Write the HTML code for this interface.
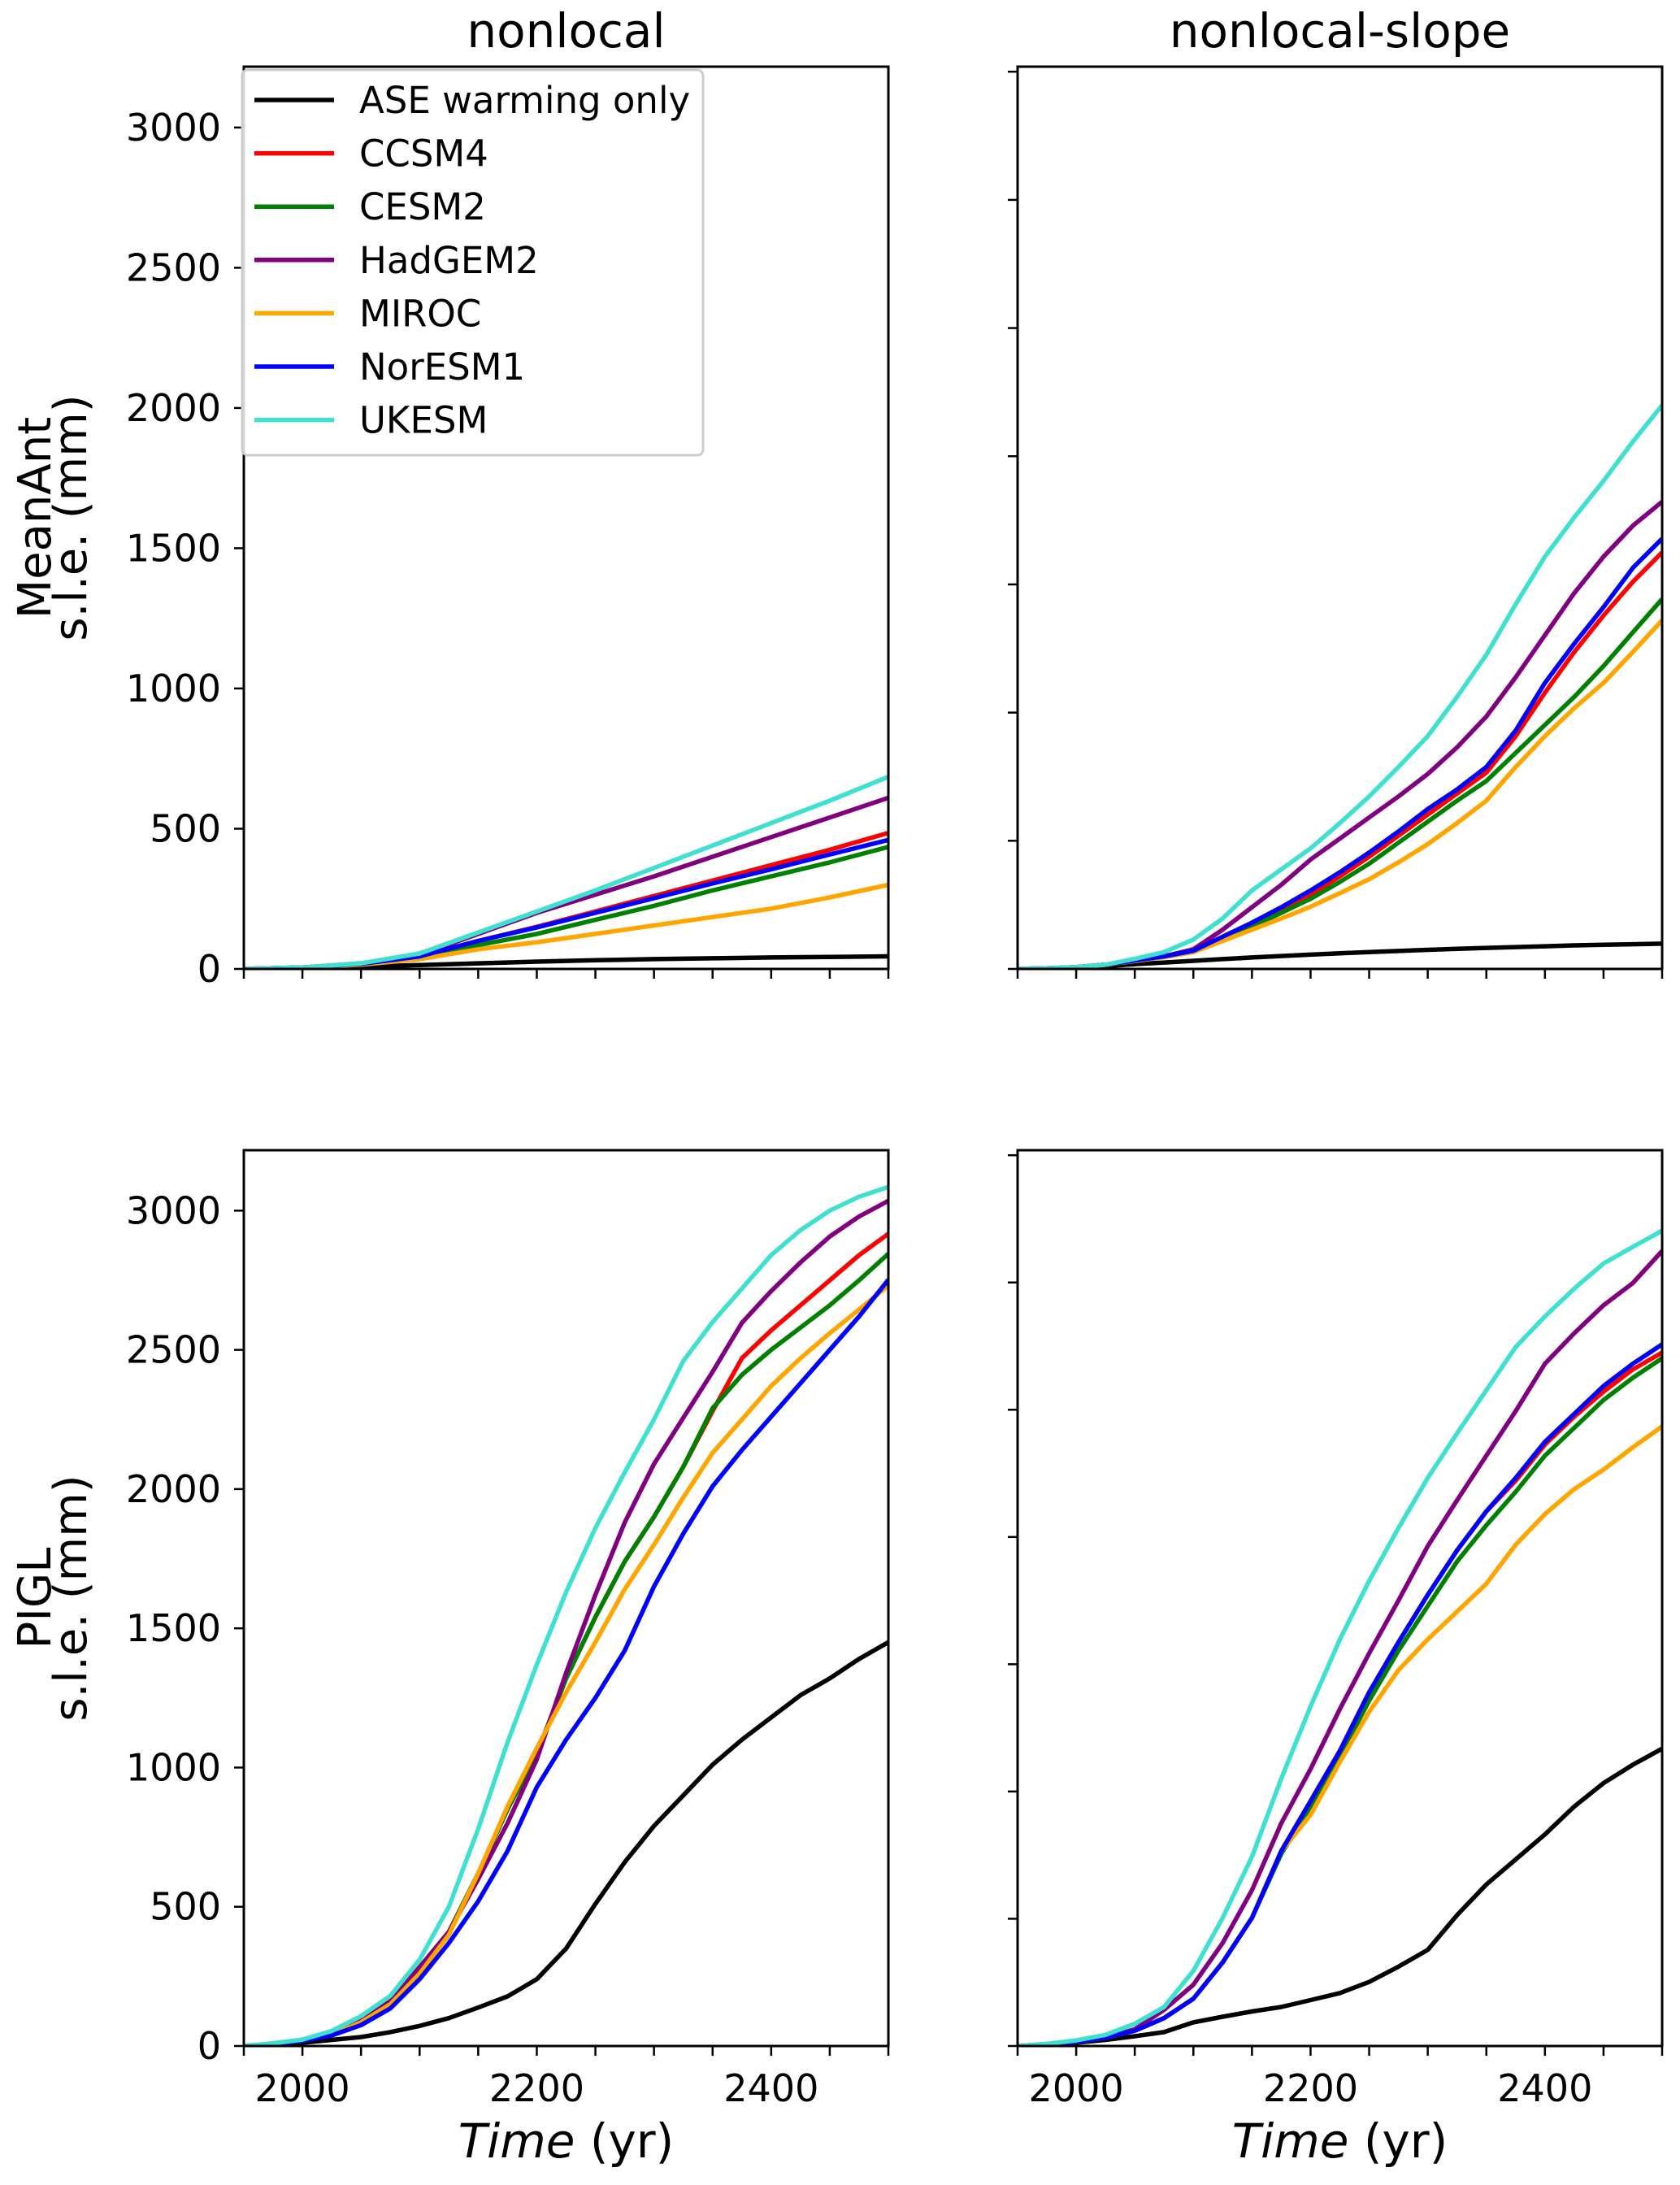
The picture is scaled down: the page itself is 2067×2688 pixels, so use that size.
<!DOCTYPE html>
<html><head><meta charset="utf-8"><style>
body{margin:0;background:#fff}
svg{display:block;font-family:"DejaVu Sans","Liberation Sans",sans-serif}
</style></head><body>
<svg id="chart" width="2067" height="2688" viewBox="0 0 2067 2688" xmlns="http://www.w3.org/2000/svg"></svg>
<script>
const seriesNames = ["ASE warming only","CCSM4","CESM2","HadGEM2","MIROC","NorESM1","UKESM"];
const seriesColors = ["#000000","#ff0000","#008000","#800080","#ffa500","#0000ff","#40e0d0"];
const xTicks = [2000,2200,2400];
const yTicks = [0,500,1000,1500,2000,2500,3000];
const yTicksRight = [0,457,914,1371,1828,2285,2742,3199];
const topYears = [1950,2000,2050,2100,2150,2200,2250,2300,2350,2400,2450,2500];
const years25 = [1950,1975,2000,2025,2050,2075,2100,2125,2150,2175,2200,2225,2250,2275,2300,2325,2350,2375,2400,2425,2450,2475,2500];
const nonlocalMean = [
 [0,3,8,14,20,26,31,35,38,41,43,45],
 [0,5,18,45,100,150,205,260,315,370,425,485],
 [0,4,16,40,85,125,175,225,280,330,380,435],
 [0,5,20,50,125,200,265,330,400,470,540,610],
 [0,4,15,35,70,95,125,155,185,215,255,300],
 [0,5,18,45,100,148,200,252,305,355,408,460],
 [0,5,20,55,130,205,280,360,440,520,600,685]
];
const slopeMean = [
 [0,2,5,10,17,23,29,35,41,46,51,56,60,64,68,72,75,78,81,84,86,88,90],
 [0,2,6,15,30,45,65,110,155,210,265,330,400,475,550,625,700,830,985,1130,1260,1380,1485],
 [0,2,6,15,30,45,65,105,150,200,250,310,375,450,525,600,670,770,870,970,1080,1200,1319],
 [0,2,6,15,30,45,70,140,220,300,390,465,540,615,695,790,900,1040,1190,1340,1470,1580,1666],
 [0,2,6,15,28,42,60,100,140,180,222,270,320,380,445,520,600,720,830,930,1020,1130,1243],
 [0,2,6,15,30,45,65,115,165,220,280,345,415,490,570,640,720,850,1020,1160,1290,1430,1534],
 [0,2,6,15,36,60,105,180,280,355,430,520,615,720,830,970,1120,1300,1470,1610,1740,1880,2010]
];
const nonlocalPIGL = [
 [0,5,12,22,32,50,72,100,138,178,240,350,510,660,790,900,1010,1100,1180,1260,1320,1390,1450],
 [0,8,19,45,97,160,283,410,620,850,1050,1320,1540,1740,1900,2080,2280,2470,2570,2660,2750,2840,2917],
 [0,8,19,45,97,160,283,410,620,850,1050,1320,1540,1740,1900,2080,2290,2410,2500,2580,2660,2750,2845],
 [0,8,19,45,97,160,283,410,600,800,1030,1340,1620,1880,2090,2256,2421,2597,2711,2814,2907,2979,3035],
 [0,8,19,40,85,150,260,400,620,860,1070,1270,1450,1640,1800,1970,2130,2250,2370,2470,2560,2645,2731],
 [0,8,19,38,75,135,240,370,520,700,930,1100,1250,1420,1650,1840,2010,2140,2260,2380,2500,2620,2752],
 [0,10,23,54,107,180,310,500,780,1090,1370,1630,1860,2060,2250,2460,2600,2720,2840,2930,3000,3050,3085]
];
const slopePIGL = [
 [0,5,12,22,35,50,85,105,124,140,165,190,230,285,345,470,580,670,760,860,944,1010,1068],
 [0,6,15,30,55,100,170,300,460,700,880,1060,1270,1450,1620,1780,1920,2030,2160,2260,2350,2430,2490],
 [0,6,15,30,55,100,170,300,460,690,860,1040,1240,1420,1580,1740,1870,1990,2120,2220,2320,2400,2470],
 [0,6,15,30,60,130,220,370,560,800,995,1210,1410,1600,1795,1960,2120,2280,2450,2560,2660,2740,2855],
 [0,6,15,30,55,100,170,300,460,700,830,1020,1200,1350,1460,1560,1660,1800,1910,2000,2070,2150,2225],
 [0,6,15,30,55,100,170,300,460,700,880,1060,1270,1450,1620,1780,1920,2040,2170,2270,2370,2450,2520],
 [0,8,20,40,80,140,270,460,680,960,1220,1460,1670,1860,2040,2200,2355,2510,2620,2720,2810,2870,2928]
];

const NS="http://www.w3.org/2000/svg";
const svg=document.getElementById('chart');
function mk(tag,attrs,parent){const e=document.createElementNS(NS,tag);for(const k in attrs)e.setAttribute(k,attrs[k]);(parent||svg).appendChild(e);return e;}
const XMIN=1950,XMAX=2500,YMIN=0,YMAX=3217;

function panel(id,x0,x1,y0,y1,years,data,labels,ticks){
  const g=mk('g',{});
  
  
  const sx=v=>x0+(v-XMIN)/(XMAX-XMIN)*(x1-x0);
  const sy=v=>y1-(v-YMIN)/(YMAX-YMIN)*(y1-y0);
  const cp=mk('clipPath',{id:'clip-'+id},g);
  mk('rect',{x:x0,y:y0,width:x1-x0,height:y1-y0},cp);
  data.forEach((vals,i)=>{
    const pts=vals.map((v,j)=>sx(years[j]).toFixed(1)+','+sy(v).toFixed(1)).join(' ');
    const pl=mk('polyline',{points:pts,fill:'none',stroke:seriesColors[i],'stroke-width':5.5,'stroke-linejoin':'round','clip-path':'url(#clip-'+id+')'},g);
    
    
  });
  const fr=mk('rect',{x:x0,y:y0,width:x1-x0,height:y1-y0,fill:'none',stroke:'#000','stroke-width':3},g);
  
  
  for(let yr=1950;yr<=2500;yr+=50){
    const x=sx(yr);
    mk('line',{x1:x,x2:x,y1:y1,y2:y1+12,stroke:'#000','stroke-width':2.5},g);
  }
  ticks.forEach(v=>{
    const y=sy(v);
    mk('line',{x1:x0-12,x2:x0,y1:y,y2:y,stroke:'#000','stroke-width':2.5},g);
    if(labels.y){
      const t=mk('text',{x:x0-28,y:y+16,'text-anchor':'end','font-size':46},g);
      t.textContent=v;
      
      
    }
  });
  if(labels.x){
    xTicks.forEach(v=>{
      const t=mk('text',{x:sx(v),y:y1+68,'text-anchor':'middle','font-size':46},g);
      t.textContent=v;
      
      
    });
    const xl=mk('text',{x:(x0+x1)/2,y:y1+137,'text-anchor':'middle','font-size':58},g);
    
    
    const a=mk('tspan',{'font-style':'italic'},xl);a.textContent='Time';
    const b=mk('tspan',{},xl);b.textContent=' (yr)';
  }
}
const LX0=300,LX1=1093,RX0=1252,RX1=2045,TY0=82,TY1=1192,BY0=1415,BY1=2517;
panel('panel-nonlocal-meanant',LX0,LX1,TY0,TY1,topYears,nonlocalMean,{y:true,x:false},yTicks);
panel('panel-slope-meanant',RX0,RX1,TY0,TY1,years25,slopeMean,{y:false,x:false},yTicksRight);
panel('panel-nonlocal-pigl',LX0,LX1,BY0,BY1,years25,nonlocalPIGL,{y:true,x:true},yTicks);
panel('panel-slope-pigl',RX0,RX1,BY0,BY1,years25,slopePIGL,{y:false,x:true},yTicksRight);

function txt(s,attrs,name){const t=mk('text',attrs);t.textContent=s;return t;}
txt('nonlocal',{x:(LX0+LX1)/2,y:58,'text-anchor':'middle','font-size':58},'column-title-nonlocal');
txt('nonlocal-slope',{x:(RX0+RX1)/2,y:58,'text-anchor':'middle','font-size':58},'column-title-nonlocal-slope');
function ylab(l1,l2,cy,name){
  const g=mk('g',{transform:'translate(0,'+cy+') rotate(-90)'});
  
  
  const a=mk('text',{x:0,y:62,'text-anchor':'middle','font-size':56},g);a.textContent=l1;
  const b=mk('text',{x:0,y:106,'text-anchor':'middle','font-size':56},g);b.textContent=l2;
}
ylab('MeanAnt','s.l.e. (mm)',637,'y-axis-title-meanant');
ylab('PIGL','s.l.e. (mm)',1966,'y-axis-title-pigl');

const lg=mk('g',{});


mk('rect',{x:298,y:86,width:567,height:474,rx:7,fill:'#fff','fill-opacity':0.85,stroke:'#cccccc','stroke-width':3},lg);
seriesNames.forEach((n,i)=>{
  const y=123+i*65.6;
  const ln=mk('line',{x1:313,x2:411,y1:y,y2:y,stroke:seriesColors[i],'stroke-width':5.5},lg);
  
  
  const t=mk('text',{x:442,y:y+16,'font-size':45},lg);
  t.textContent=n;
  
  
});
</script>
</body></html>
